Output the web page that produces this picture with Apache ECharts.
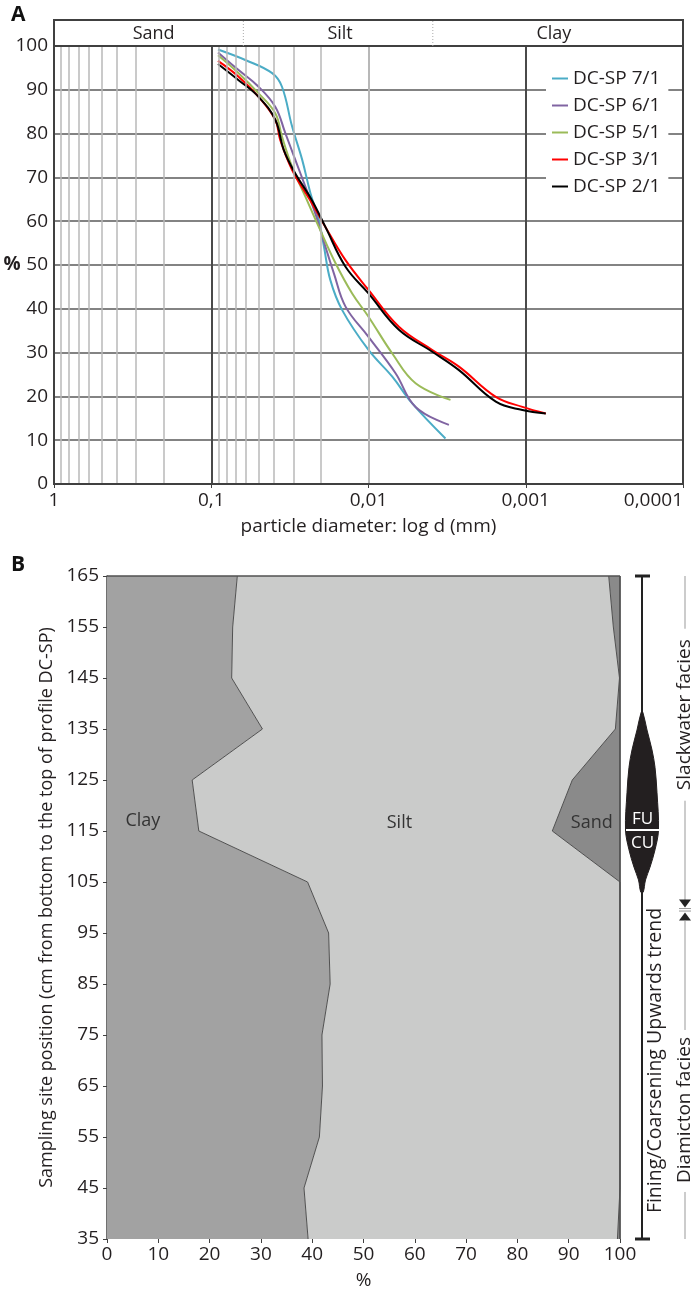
<!DOCTYPE html>
<html>
<head>
<meta charset="utf-8">
<script src="https://cdn.jsdelivr.net/npm/echarts@6.0.0/dist/echarts.min.js"></script>
<style>
html,body{margin:0;padding:0;background:#fff}
#main{width:699px;height:1291px}
</style>
</head>
<body>
<div id="main"></div>
<script>
// A: cumulative grain size curves, [diameter mm, % finer]
var sp71 = [[0.0906,99.2],[0.0607,96.8],[0.0410,93.8],[0.0355,90.7],[0.0306,81.6],[0.0264,74.0],[0.0234,66.4],[0.0207,60.3],[0.0192,54.2],[0.0175,46.6],[0.0147,39.7],[0.0100,30.6],[0.00706,24.5],[0.00527,18.4],[0.00324,10.4]];
var sp61 = [[0.0906,98.5],[0.0670,94.5],[0.0500,90.7],[0.0391,86.1],[0.0338,80.1],[0.0292,74.0],[0.0252,67.9],[0.0218,61.8],[0.0188,54.2],[0.0166,48.1],[0.0140,40.5],[0.0100,33.6],[0.00673,25.3],[0.00502,17.6],[0.00308,13.5]];
var sp51 = [[0.0906,97.9],[0.0670,93.8],[0.0500,89.2],[0.0391,84.6],[0.0355,79.3],[0.0306,72.4],[0.0252,65.6],[0.0207,58.7],[0.0162,50.4],[0.0127,43.5],[0.0100,38.2],[0.00706,29.8],[0.00502,23.0],[0.00301,19.2]];
var sp31 = [[0.0906,96.6],[0.0670,93.0],[0.0500,88.4],[0.0391,83.1],[0.0364,78.5],[0.0306,71.7],[0.0229,64.1],[0.0188,58.7],[0.0140,51.1],[0.0100,44.3],[0.00641,35.9],[0.00393,30.6],[0.00266,26.8],[0.00155,19.9],[0.00105,17.6],[0.000746,16.1]];
var sp21 = [[0.0906,95.9],[0.0670,92.2],[0.0500,88.4],[0.0391,83.1],[0.0346,76.3],[0.0292,70.9],[0.0229,64.8],[0.0188,58.7],[0.0140,49.6],[0.0100,43.5],[0.00641,35.2],[0.00393,30.2],[0.00266,26.0],[0.00155,18.8],[0.00105,16.9],[0.000746,16.1]];
var sampleNames = ['DC-SP 7/1','DC-SP 6/1','DC-SP 5/1','DC-SP 3/1','DC-SP 2/1'];
var sampleColors = ['#4bacc6','#8064a2','#9bbb59','#ff0000','#000000'];
var grainClasses = ['Sand','Silt','Clay'];
var classLimits = [0.0625, 0.0039]; // sand/silt, silt/clay (mm)

// B: grain fractions per sampling depth (cm)
var depth = ['35','45','55','65','75','85','95','105','115','125','135','145','155','165'];
var clay = [39.2,38.4,41.4,42.0,41.9,43.5,43.2,39.1,17.9,16.6,30.3,24.3,24.5,25.4];
var silt = [60.3,61.6,58.6,58.0,58.1,56.5,56.8,60.9,68.9,74.1,68.8,75.6,74.2,72.4];
var sand = [0.5,0,0,0,0,0,0,0,13.2,9.3,0.9,0.1,1.3,2.2];

var FONT = '"Open Sans", "Noto Sans", sans-serif';
var TXT = '#231f20';

// minor log gridlines 0.2..0.9 of each decade
var minorLines = [];
for (var e = -4; e < 0; e++) {
  for (var k = 2; k <= 9; k++) minorLines.push({xAxis: k * Math.pow(10, e)});
}

function logLabel(v) {
  var ex = Math.round(Math.log10(v));
  if (ex >= 0) return '1';
  return '0,' + '0'.repeat(-ex - 1) + '1';
}

var chart = echarts.init(document.getElementById('main'));

var curves = [sp71, sp61, sp51, sp31, sp21];
var series = curves.map(function (d, i) {
  return {
    name: sampleNames[i], type: 'line', xAxisIndex: 0, yAxisIndex: 0,
    data: d, smooth: 0.4, showSymbol: false, symbol: 'none',
    lineStyle: {color: sampleColors[i], width: 2}, itemStyle: {color: sampleColors[i]},
    z: 3
  };
});
series.unshift({
  type: 'line', xAxisIndex: 0, yAxisIndex: 0, data: [], silent: true, z: 1,
  markLine: {silent: true, symbol: 'none', label: {show: false},
    lineStyle: {color: '#b8b8b8', width: 1.5, type: 'solid'}, data: minorLines}
});

var fracColors = ['#a2a2a2', '#cacbca', '#8a8a8a'];
[clay, silt, sand].forEach(function (d, i) {
  series.push({
    name: ['Clay','Silt','Sand'][i], type: 'line', xAxisIndex: 1, yAxisIndex: 1,
    stack: 'frac', data: d, symbol: 'none', showSymbol: false,
    lineStyle: {color: '#505050', width: 1},
    areaStyle: {color: fracColors[i], opacity: 1}
  });
});

var option = {
  backgroundColor: '#fff',
  animation: false,
  textStyle: {fontFamily: FONT},
  grid: [
    {left: 54, top: 46, width: 629, height: 438, outerBoundsMode: 'none', containLabel: false},
    {left: 107, top: 576, width: 513, height: 663, outerBoundsMode: 'none', containLabel: false}
  ],
  legend: {
    data: sampleNames, orient: 'vertical', left: 546, top: 62,
    backgroundColor: '#fff', padding: [7, 8, 7, 6], itemGap: 8,
    icon: 'rect', itemWidth: 16, itemHeight: 2,
    textStyle: {fontSize: 19, color: TXT, fontFamily: FONT}
  },
  xAxis: [
    {
      gridIndex: 0, type: 'log', logBase: 10, min: 0.0001, max: 1, inverse: true,
      name: 'particle diameter: log d (mm)', nameLocation: 'middle', nameGap: 33,
      nameTextStyle: {fontSize: 19, color: TXT},
      axisLine: {lineStyle: {color: '#404040', width: 2}},
      axisTick: {show: true, length: 4, lineStyle: {color: '#404040'}},
      axisLabel: {fontSize: 19, color: TXT, margin: 7, formatter: logLabel, alignMinLabel: 'right'},
      splitLine: {show: true, lineStyle: {color: '#4a4a4a', width: 2}},
      minorTick: {show: false}
    },
    {
      gridIndex: 1, type: 'value', min: 0, max: 100, interval: 10,
      name: '%', nameLocation: 'middle', nameGap: 32,
      nameTextStyle: {fontSize: 19, color: TXT},
      axisLine: {lineStyle: {color: '#404040', width: 1.5}},
      axisTick: {show: true, length: 4, lineStyle: {color: '#404040'}},
      axisLabel: {fontSize: 19, color: TXT, margin: 6},
      splitLine: {show: false}
    }
  ],
  yAxis: [
    {
      gridIndex: 0, type: 'value', min: 0, max: 100, interval: 10,
      axisLine: {show: true, lineStyle: {color: '#404040', width: 2}},
      axisTick: {show: false},
      axisLabel: {fontSize: 19, color: TXT, margin: 6},
      splitLine: {show: true, lineStyle: {color: '#5a5a5a', width: 1.5}}
    },
    {
      gridIndex: 1, type: 'category', data: depth, boundaryGap: false,
      name: 'Sampling site position (cm from bottom to the top of profile DC-SP)',
      nameLocation: 'middle', nameGap: 48, nameRotate: 90,
      nameTextStyle: {fontSize: 18, color: TXT},
      axisLine: {show: true, lineStyle: {color: '#404040', width: 1.5}},
      axisTick: {show: true, length: 4, interval: 0, lineStyle: {color: '#404040'}},
      axisLabel: {fontSize: 19, color: TXT, margin: 8, interval: 0},
      splitLine: {show: false}
    }
  ],
  series: series
};
chart.setOption(option);

// ---- annotations placed from the axes ----
var px = function (v) { return chart.convertToPixel({xAxisIndex: 0}, v); };
var aL = 54, aR = 683, aT = 46, aB = 484, hT = 20;
var bL = 107, bR = 620;
var y165 = chart.convertToPixel({yAxisIndex: 1}, '165');
var y35 = chart.convertToPixel({yAxisIndex: 1}, '35');
var dy = function (d) { return y35 + (d - 35) / 130 * (y165 - y35); };
var pctX = function (p) { return chart.convertToPixel({xAxisIndex: 1}, p); };

var xs = px(classLimits[0]), xc = px(classLimits[1]);
var g = [];
// frame + header of A
g.push({type: 'rect', shape: {x: aL, y: hT, width: aR - aL, height: aB - hT}, style: {fill: null, stroke: '#404040', lineWidth: 2}, z: 10});
g.push({type: 'line', shape: {x1: aL, y1: aT, x2: aR, y2: aT}, style: {stroke: '#404040', lineWidth: 2}, z: 10});
[xs, xc].forEach(function (x) {
  g.push({type: 'line', shape: {x1: x, y1: hT + 1, x2: x, y2: aT}, style: {stroke: '#aaa', lineWidth: 1, lineDash: [1, 2]}, z: 10});
});
var hx = [(aL + xs) / 2 + 5, (xs + xc) / 2 + 2, (xc + aR) / 2 - 4];
grainClasses.forEach(function (t, i) {
  g.push({type: 'text', x: hx[i], y: (hT + aT) / 2 + 1, style: {text: t, font: '18px ' + FONT, fill: TXT, align: 'center', verticalAlign: 'middle'}, z: 10});
});
g.push({type: 'text', x: 12, y: 265, style: {text: '%', font: 'bold 19px ' + FONT, fill: TXT, align: 'center', verticalAlign: 'middle'}, z: 10});
g.push({type: 'text', x: 11, y: 15, style: {text: 'A', font: 'bold 21px ' + FONT, fill: '#111', verticalAlign: 'middle'}, z: 10});
g.push({type: 'text', x: 11, y: 565, style: {text: 'B', font: 'bold 21px ' + FONT, fill: '#111', verticalAlign: 'middle'}, z: 10});

// B top border + fraction labels
g.push({type: 'line', shape: {x1: bL, y1: y165, x2: bR, y2: y165}, style: {stroke: '#505050', lineWidth: 1.5}, z: 10});
g.push({type: 'line', shape: {x1: bR, y1: y165, x2: bR, y2: y35}, style: {stroke: '#505050', lineWidth: 1.5}, z: 10});
[['Clay', 7, 117], ['Silt', 57, 116.5], ['Sand', 94.5, 116.5]].forEach(function (a) {
  g.push({type: 'text', x: pctX(a[1]), y: dy(a[2]), style: {text: a[0], font: '18px ' + FONT, fill: '#333', align: 'center', verticalAlign: 'middle'}, z: 10});
});

// trend bar
var tx = bR + 22;
g.push({type: 'line', shape: {x1: tx, y1: y165, x2: tx, y2: y35}, style: {stroke: '#222', lineWidth: 2}, z: 10});
g.push({type: 'line', shape: {x1: tx - 7, y1: y165, x2: tx + 8, y2: y165}, style: {stroke: '#222', lineWidth: 3}, z: 10});
g.push({type: 'line', shape: {x1: tx - 7, y1: y35, x2: tx + 8, y2: y35}, style: {stroke: '#222', lineWidth: 3}, z: 10});
var prof = [[0.8,138.3],[5,134.8],[10,130.9],[13,127.5],[15,122.5],[16.5,115.2],[13,111.3],[8,107.9],[3.5,105.4],[1.2,103]];
var pts = prof.map(function (p) { return [tx + p[0], dy(p[1])]; });
for (var i = prof.length - 1; i >= 0; i--) pts.push([tx - prof[i][0], dy(prof[i][1])]);
g.push({type: 'polygon', shape: {points: pts, smooth: 0.35}, style: {fill: '#231f20', stroke: '#231f20', lineWidth: 1}, z: 11});
var ym = dy(115.2);
g.push({type: 'line', shape: {x1: tx - 16, y1: ym, x2: tx + 17, y2: ym}, style: {stroke: '#fff', lineWidth: 2}, z: 12});
g.push({type: 'text', x: tx + 0.5, y: ym - 11, style: {text: 'FU', font: '17px ' + FONT, fill: '#fff', align: 'center', verticalAlign: 'middle'}, z: 12});
g.push({type: 'text', x: tx + 0.5, y: ym + 13, style: {text: 'CU', font: '17px ' + FONT, fill: '#fff', align: 'center', verticalAlign: 'middle'}, z: 12});
g.push({type: 'text', x: tx + 13, y: dy(70), rotation: Math.PI / 2, style: {text: 'Fining/Coarsening Upwards trend', font: '19.5px ' + FONT, fill: TXT, align: 'center', verticalAlign: 'middle'}, z: 10});

// facies column
var fx = bR + 65;
var yb = dy(99.6);
g.push({type: 'line', shape: {x1: fx, y1: y165, x2: fx, y2: dy(137.8) - 86}, style: {stroke: '#999', lineWidth: 1}, z: 10});
g.push({type: 'text', x: fx, y: dy(137.8), rotation: Math.PI / 2, style: {text: 'Slackwater facies', font: '19px ' + FONT, fill: TXT, align: 'center', verticalAlign: 'middle'}, z: 10});
g.push({type: 'line', shape: {x1: fx, y1: dy(137.8) + 86, x2: fx, y2: yb - 9}, style: {stroke: '#999', lineWidth: 1}, z: 10});
g.push({type: 'polygon', shape: {points: [[fx - 6, yb - 10], [fx + 6, yb - 10], [fx, yb - 2]]}, style: {fill: '#222'}, z: 10});
g.push({type: 'line', shape: {x1: fx - 6, y1: yb - 1, x2: fx + 6, y2: yb - 1}, style: {stroke: '#999', lineWidth: 1}, z: 10});
g.push({type: 'line', shape: {x1: fx - 6, y1: yb + 1.5, x2: fx + 6, y2: yb + 1.5}, style: {stroke: '#999', lineWidth: 1}, z: 10});
g.push({type: 'polygon', shape: {points: [[fx - 6, yb + 11], [fx + 6, yb + 11], [fx, yb + 3]]}, style: {fill: '#222'}, z: 10});
g.push({type: 'line', shape: {x1: fx, y1: yb + 11, x2: fx, y2: dy(60.3) - 80}, style: {stroke: '#999', lineWidth: 1}, z: 10});
g.push({type: 'text', x: fx, y: dy(60.3), rotation: Math.PI / 2, style: {text: 'Diamicton facies', font: '19px ' + FONT, fill: TXT, align: 'center', verticalAlign: 'middle'}, z: 10});
g.push({type: 'line', shape: {x1: fx, y1: dy(60.3) + 82, x2: fx, y2: y35}, style: {stroke: '#999', lineWidth: 1}, z: 10});

chart.setOption({graphic: g});
</script>
</body>
</html>
